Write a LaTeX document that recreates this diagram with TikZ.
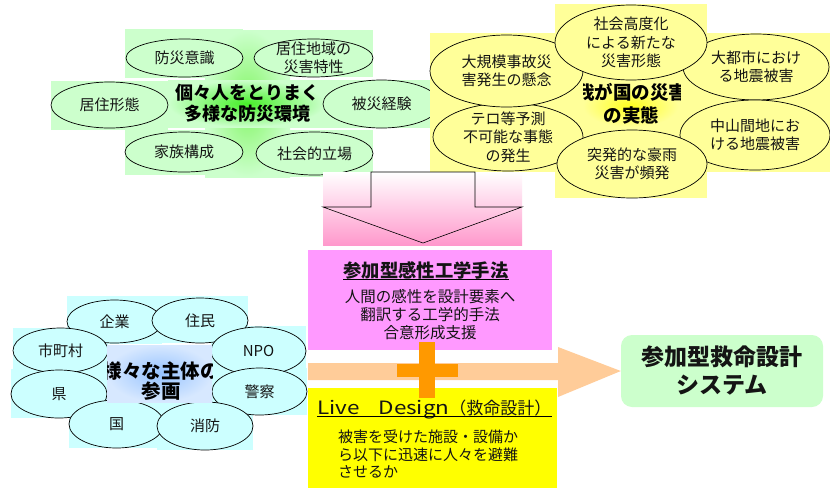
\documentclass[tikz,border=0pt]{standalone}
\usepackage{fontspec}
\setmainfont{Noto Sans CJK JP}
\usetikzlibrary{shapes.geometric}
\definecolor{lgreen}{HTML}{CCFFCC}
\definecolor{lyellow}{HTML}{FFFF99}
\definecolor{lcyan}{HTML}{CCFFFF}
\definecolor{pinkbox}{HTML}{FF99FF}
\definecolor{ybox}{HTML}{FFFF00}
\definecolor{plusorange}{HTML}{FF9900}
\definecolor{peach}{HTML}{FFCC99}
\definecolor{arrowpink}{HTML}{FF99CC}
\definecolor{txt}{HTML}{141414}
\tikzset{
  ellshape/.style={ellipse, draw=black, line width=0.7pt, inner sep=0pt},
  elltext/.style={align=center, inner sep=0pt, text=txt, font=\fontsize{15}{18.5}\selectfont},
  hubtext/.style={align=center, inner sep=0pt, text=black, font=\bfseries\fontsize{18}{20.5}\selectfont},
  boxtext/.style={align=center, inner sep=0pt, text=txt, font=\fontsize{15.5}{18}\selectfont},
}
\newcommand\eln[7]{%
  \node[ellshape, fill=#6, minimum width=#4, minimum height=#5] (#1) at (#2,#3) {};
  \node[elltext] at (#1.center) {#7};}
\begin{document}
\begin{tikzpicture}[x=1pt,y=-1pt]
\useasboundingbox (0,0) rectangle (830,488);
\fill[white] (0,0) rectangle (830,488);

% ---------- top-left cluster ----------
\fill[lgreen] (125,29) rectangle (243,78);
\fill[lgreen] (253,30) rectangle (373,77);
\fill[lgreen] (51,81) rectangle (168,130);
\fill[lgreen] (323,80) rectangle (440,128);
\fill[lgreen] (125,130) rectangle (243,175);
\fill[lgreen] (256,130) rectangle (373,177);
\shade[inner color={rgb,255:red,130;green,245;blue,100}, outer color=lgreen] (205,30) rectangle (290,177);
\shade[inner color={rgb,255:red,70;green,240;blue,40}, outer color=lgreen] (168,80) rectangle (325,127);
\eln{e1}{184.5}{58}{117}{38}{lgreen}{防災意識}
\eln{e2}{313.5}{58}{119}{38}{lgreen}{居住地域の\\災害特性}
\eln{e3}{109.5}{105}{117}{46}{lgreen}{居住形態}
\eln{e4}{381.5}{104}{117}{48}{lgreen}{被災経験}
\eln{e5}{184}{152}{118}{40}{lgreen}{家族構成}
\eln{e6}{314.5}{153.5}{117}{43}{lgreen}{社会的立場}
\node[hubtext] (hub1) at (247,103) {個々人をとりまく\\多様な防災環境};

% ---------- top-right cluster ----------
\fill[lyellow] (430,33) rectangle (830,172);
\fill[lyellow] (555,4) rectangle (707,198);
\shade[inner color={rgb,255:red,255;green,255;blue,30}, outer color=lyellow] (583,85) rectangle (678,127);
\eln{f2}{508}{137}{150}{68}{lyellow}{テロ等予測\\不可能な事態\\の発生}
\eln{f1}{506.5}{71}{153}{72}{lyellow}{大規模事故災\\害発生の懸念}
\eln{f4}{756}{67}{146}{66}{lyellow}{大都市におけ\\る地震被害}
\eln{f5}{755}{135}{150}{70}{lyellow}{中山間地にお\\ける地震被害}
\eln{f3}{631}{42.5}{152}{75}{lyellow}{社会高度化\\による新たな\\災害形態}
\eln{f6}{632}{164}{150}{68}{lyellow}{突発的な豪雨\\災害が頻発}
\begin{scope}
\clip (583,80) rectangle (680,130);
\node[hubtext, font=\bfseries\fontsize{18.5}{22.5}\selectfont] (hub2) at (631.5,104) {我が国の災害\\の実態};
\end{scope}

% ---------- down arrow ----------
\shade[top color=white, bottom color=arrowpink] (323,172) rectangle (522,245);
\draw[line width=0.6pt] (371,172) -- (475,172) -- (475,207) -- (522,207) -- (423,243) -- (323,207) -- (371,207) -- cycle;

% ---------- pink box ----------
\node[fill=pinkbox, minimum width=244, minimum height=100, inner sep=0pt] (pbox) at (430,300) {};
\node[inner sep=0pt, anchor=base, text=txt, font=\bfseries\fontsize{18.3}{20}\selectfont] (ptitle) at (426,277) {参加型感性工学手法};
\draw[line width=0.9pt] ([yshift=-2.5pt]ptitle.base west) -- ([yshift=-2.5pt]ptitle.base east);
\node[boxtext] (pbody) at (430,315) {人間の感性を設計要素へ\\翻訳する工学的手法\\合意形成支援};

% ---------- right result box ----------
\node[fill=lgreen, rounded corners=11pt, minimum width=202, minimum height=72, inner sep=0pt] (rbox) at (722,371) {};
\node[align=center, inner sep=0pt, text=txt, font=\bfseries\fontsize{23}{28}\selectfont] at (rbox.center) {参加型救命設計\\システム};

% ---------- peach arrow ----------
\coordinate (bandstart) at (308,371.5);
\fill[peach] ([yshift=8.5pt]bandstart) -- (558,363) -- (558,347) -- (rbox.west) -- (558,397) -- (558,380) -- ([yshift=-8.5pt]bandstart) -- cycle;

% ---------- yellow box ----------
\node[fill=ybox, minimum width=249, minimum height=100, inner sep=0pt] (ybx) at (432.5,438) {};
\node[inner sep=0pt, anchor=base west, text=txt, font=\fontsize{17}{20}\selectfont] (ytitle) at (317,414) {\scalebox{1.32}[1.08]{Live}\hspace{19pt}\scalebox{1.32}[1.08]{Design}（救命設計）};
\draw[line width=0.9pt] ([yshift=-2.5pt]ytitle.base west) -- ([yshift=-2.5pt]ytitle.base east);
\node[inner sep=0pt, anchor=west, align=left, text=txt, font=\fontsize{15}{17.5}\selectfont] (ybody) at (338,454) {被害を受けた施設・設備か\\ら以下に迅速に人々を避難\\させるか};

% ---------- plus ----------
\fill[plusorange] (419,342) rectangle (435,398);
\fill[plusorange] (397,364) rectangle (458,377);

% ---------- bottom-left cluster ----------
\fill[lcyan] (67,296) rectangle (162,344);
\fill[lcyan] (152,296) rectangle (248,343);
\fill[lcyan] (13,328) rectangle (108,373);
\fill[lcyan] (211,326) rectangle (306,375);
\fill[lcyan] (11,369) rectangle (107,418);
\fill[lcyan] (212,368) rectangle (307,415);
\fill[lcyan] (69,400) rectangle (164,448);
\fill[lcyan] (157,402) rectangle (253,450);
\eln{g1}{114.5}{321.5}{95}{43}{lcyan}{企業}
\eln{g2}{200}{320.5}{96}{45}{lcyan}{住民}
\eln{g3}{60.5}{350.5}{95}{45}{lcyan}{市町村}
\eln{g4}{258.5}{351}{95}{48}{lcyan}{NPO}
\eln{g5}{59}{394}{96}{48}{lcyan}{県}
\eln{g6}{259.5}{391.5}{95}{47}{lcyan}{警察}
\eln{g7}{116.5}{424}{95}{48}{lcyan}{国}
\eln{g8}{205}{426}{96}{48}{lcyan}{消防}
\shade[inner color={rgb,255:red,150;green,195;blue,255}, outer color={rgb,255:red,215;green,232;blue,255}] (107,345) rectangle (212,402);
\begin{scope}
\clip (107,345) rectangle (212,402);
\node[hubtext, font=\bfseries\fontsize{19.5}{19.5}\selectfont] (hub3) at (161,381) {様々な主体の\\参画};
\end{scope}
\end{tikzpicture}
\end{document}
